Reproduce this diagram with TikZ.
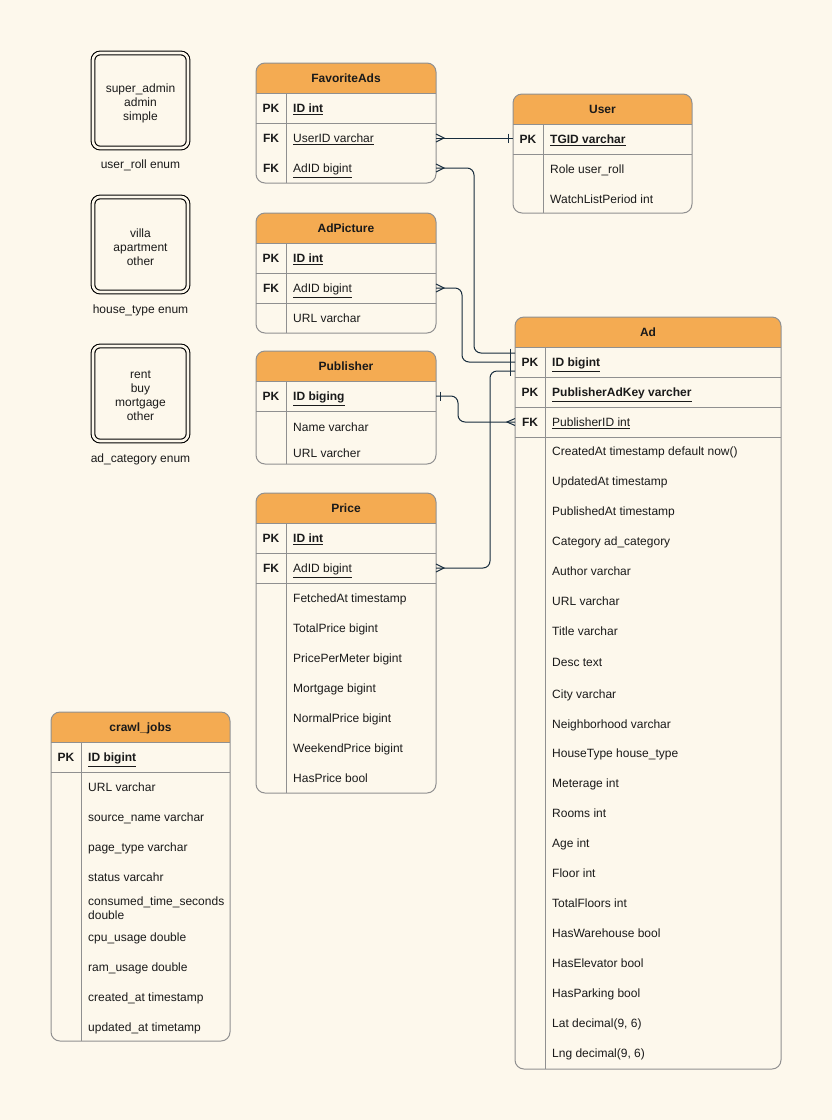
\documentclass[tikz,border=0pt]{standalone}
\usepackage{fontspec}
\setmainfont{Liberation Sans}
\usetikzlibrary{calc}

\definecolor{paper}{RGB}{253,248,236}
\definecolor{hdrfill}{RGB}{244,171,82}
\definecolor{rule}{RGB}{144,144,144}
\definecolor{link}{RGB}{24,45,62}
\definecolor{ink}{RGB}{26,26,26}

\newcommand\pkname[1]{\textbf{\underline{#1}}}
\newcommand\fkname[1]{\underline{#1}}

% table: name, x1, y1, x2, y2, title
\newcommand\ertable[6]{%
  \begin{scope}
    \clip[rounded corners=9] (#2,#3) rectangle (#4,#5);
    \fill[paper] (#2,#3) rectangle (#4,#5);
    \fill[hdrfill] (#2,#3) rectangle (#4,#3+30);
  \end{scope}
  \draw[rule] (#2,#3+30) -- (#4,#3+30);
  \draw[rule] (#2+30,#3+30) -- (#2+30,#5);
  \node[frame, minimum width=#4-#2, minimum height=#5-#3] (#1) at (#2,#3) {};
  \node[heading] (#1-title) at ({(#2+#4)/2},#3+15) {#6};
}
% field row: name, x1, y centre, key, style, text
\newcommand\erfield[6]{%
  \node[keytext] (#1-key) at (#2+15,#3) {#4};
  \node[#5] (#1) at (#2+37,#3) {#6};
}
% separator between row groups: x1, x2, y
\newcommand\errule[3]{\draw[rule] (#1,#3) -- (#2,#3);}
% relationship end marks
\newcommand\crowfoot[3]{\draw[link] ($#1+(0,-#3)$) -- ($#1+(#2*8,0)$) -- ($#1+(0,#3)$);}
\newcommand\onebar[2]{\draw[link] ($#1+(#2*4.5,-4.5)$) -- ($#1+(#2*4.5,4.5)$);}

\begin{document}
\begin{tikzpicture}[x=1pt,y=-1pt,
  every node/.style={font=\fontsize{12}{14}\selectfont, text=ink},
  frame/.style={draw=rule, line width=1pt, rounded corners=9, anchor=north west,
    inner sep=0pt, outer sep=0pt},
  heading/.style={font=\fontsize{12}{14}\selectfont\bfseries, inner sep=0pt,
    text height=9.8pt, text depth=0pt},
  keytext/.style={font=\fontsize{12}{14}\selectfont\bfseries, inner sep=0pt,
    text height=9.8pt, text depth=0pt},
  fld/.style={anchor=west, inner sep=0pt, text height=9.8pt, text depth=0pt},
  fldtwo/.style={anchor=west, inner sep=0pt, align=left},
  rule/.style={draw=rule, line width=1pt},
  link/.style={draw=link, line width=1pt},
  enumbox/.style={draw=black, line width=1.1pt, double=paper, double distance=2.6pt,
    rounded corners=7, minimum width=95, minimum height=95, inner sep=0pt, fill=paper},
  enumtext/.style={align=center, inner sep=0pt},
  enumlabel/.style={inner sep=0pt, text height=10.4pt, text depth=0pt}
]
\fill[paper] (0,0) rectangle (832,1120);
\useasboundingbox (0,0) rectangle (832,1120);

% ---------- enumerations ----------
\node[enumbox] (rollbox) at (140.5,100.5) {};
\node[enumtext] (rolltext) at (rollbox.center) [yshift=-2.5pt] {super\_admin\\admin\\simple};
\node[enumlabel] (rolllabel) at (140.5,163) {user\_roll enum};
\node[enumbox] (housebox) at (140.5,244.5) {};
\node[enumtext] (housetext) at (housebox.center) [yshift=-2.5pt] {villa\\apartment\\other};
\node[enumlabel] (houselabel) at (140.5,308) {house\_type enum};
\node[enumbox] (catbox) at (140.5,393.5) {};
\node[enumtext] (cattext) at (catbox.center) [yshift=-2.5pt] {rent\\buy\\mortgage\\other};
\node[enumlabel] (catlabel) at (140.5,457) {ad\_category enum};

% ---------- FavoriteAds ----------
\ertable{fav}{256}{63}{436}{183}{FavoriteAds}
\erfield{favId}{256}{108}{PK}{fld}{\pkname{ID int}}
\errule{256}{436}{123}
\erfield{favUserId}{256}{138}{FK}{fld}{\fkname{UserID varchar}}
\erfield{favAdId}{256}{168}{FK}{fld}{\fkname{AdID bigint}}

% ---------- User ----------
\ertable{user}{513}{94}{692}{213}{User}
\erfield{userId}{513}{139}{PK}{fld}{\pkname{TGID varchar}}
\errule{513}{692}{154}
\erfield{userRole}{513}{169}{}{fld}{Role user\_roll}
\erfield{userWatch}{513}{199}{}{fld}{WatchListPeriod int}

% ---------- AdPicture ----------
\ertable{adpic}{256}{213}{436}{333}{AdPicture}
\erfield{adpicId}{256}{258}{PK}{fld}{\pkname{ID int}}
\errule{256}{436}{273}
\erfield{adpicAdId}{256}{288}{FK}{fld}{\fkname{AdID bigint}}
\errule{256}{436}{303}
\erfield{adpicUrl}{256}{318}{}{fld}{URL varchar}

% ---------- Publisher ----------
\ertable{pub}{256}{351}{436}{464}{Publisher}
\erfield{pubId}{256}{396}{PK}{fld}{\pkname{ID biging}}
\errule{256}{436}{411}
\erfield{pubName}{256}{427}{}{fld}{Name varchar}
\erfield{pubUrl}{256}{453}{}{fld}{URL varcher}

% ---------- Price ----------
\ertable{price}{256}{493}{436}{793}{Price}
\erfield{priceId}{256}{538}{PK}{fld}{\pkname{ID int}}
\errule{256}{436}{553}
\erfield{priceAdId}{256}{568}{FK}{fld}{\fkname{AdID bigint}}
\errule{256}{436}{583}
\erfield{priceF1}{256}{598}{}{fld}{FetchedAt timestamp}
\erfield{priceF2}{256}{628}{}{fld}{TotalPrice bigint}
\erfield{priceF3}{256}{658}{}{fld}{PricePerMeter bigint}
\erfield{priceF4}{256}{688}{}{fld}{Mortgage bigint}
\erfield{priceF5}{256}{718}{}{fld}{NormalPrice bigint}
\erfield{priceF6}{256}{748}{}{fld}{WeekendPrice bigint}
\erfield{priceF7}{256}{778}{}{fld}{HasPrice bool}

% ---------- Ad ----------
\ertable{ad}{515}{317}{781}{1069}{Ad}
\erfield{adId}{515}{362}{PK}{fld}{\pkname{ID bigint}}
\errule{515}{781}{377}
\erfield{adKey}{515}{392}{PK}{fld}{\pkname{PublisherAdKey varcher}}
\errule{515}{781}{407}
\erfield{adPubId}{515}{422}{FK}{fld}{\fkname{PublisherID int}}
\errule{515}{781}{437}
\erfield{adF1}{515}{451}{}{fld}{CreatedAt timestamp default now()}
\erfield{adF2}{515}{481}{}{fld}{UpdatedAt timestamp}
\erfield{adF3}{515}{511}{}{fld}{PublishedAt timestamp}
\erfield{adF4}{515}{541}{}{fld}{Category ad\_category}
\erfield{adF5}{515}{571}{}{fld}{Author varchar}
\erfield{adF6}{515}{601}{}{fld}{URL varchar}
\erfield{adF7}{515}{631}{}{fld}{Title varchar}
\erfield{adF8}{515}{662}{}{fld}{Desc text}
\erfield{adF9}{515}{694}{}{fld}{City varchar}
\erfield{adF10}{515}{724}{}{fld}{Neighborhood varchar}
\erfield{adF11}{515}{753}{}{fld}{HouseType house\_type}
\erfield{adF12}{515}{783}{}{fld}{Meterage int}
\erfield{adF13}{515}{813}{}{fld}{Rooms int}
\erfield{adF14}{515}{843}{}{fld}{Age int}
\erfield{adF15}{515}{873}{}{fld}{Floor int}
\erfield{adF16}{515}{903}{}{fld}{TotalFloors int}
\erfield{adF17}{515}{933}{}{fld}{HasWarehouse bool}
\erfield{adF18}{515}{963}{}{fld}{HasElevator bool}
\erfield{adF19}{515}{993}{}{fld}{HasParking bool}
\erfield{adF20}{515}{1023}{}{fld}{Lat decimal(9, 6)}
\erfield{adF21}{515}{1053}{}{fld}{Lng decimal(9, 6)}

% ---------- crawl_jobs ----------
\ertable{crawl}{51}{712}{230}{1041}{crawl\_jobs}
\erfield{crawlId}{51}{757}{PK}{fld}{\pkname{ID bigint}}
\errule{51}{230}{772}
\erfield{crawlF1}{51}{787}{}{fld}{URL varchar}
\erfield{crawlF2}{51}{817}{}{fld}{source\_name varchar}
\erfield{crawlF3}{51}{847}{}{fld}{page\_type varchar}
\erfield{crawlF4}{51}{877}{}{fld}{status varcahr}
\erfield{crawlF5}{51}{908}{}{fldtwo}{consumed\_time\_seconds\\double}
\erfield{crawlF6}{51}{937}{}{fld}{cpu\_usage double}
\erfield{crawlF7}{51}{967}{}{fld}{ram\_usage double}
\erfield{crawlF8}{51}{997}{}{fld}{created\_at timestamp}
\erfield{crawlF9}{51}{1027}{}{fld}{updated\_at timetamp}

% ---------- relationships ----------
% FavoriteAds.UserID -> User.TGID
\draw[link] (fav.east |- favUserId) -- (user.west |- favUserId);
\crowfoot{(fav.east |- favUserId)}{1}{4}
\onebar{(user.west |- favUserId)}{-1}

% FavoriteAds.AdID -> Ad.ID
\draw[link, rounded corners=7] (fav.east |- favAdId) -- ++(38,0) |- ($(ad.west |- adId)+(0,-9)$);
\crowfoot{(fav.east |- favAdId)}{1}{4}
\onebar{($(ad.west |- adId)+(0,-9)$)}{-1}

% AdPicture.AdID -> Ad.ID
\draw[link, rounded corners=7] (adpic.east |- adpicAdId) -- ++(26,0) |- (ad.west |- adId);
\crowfoot{(adpic.east |- adpicAdId)}{1}{4}
\onebar{(ad.west |- adId)}{-1}

% Price.AdID -> Ad.ID
\draw[link, rounded corners=7] (price.east |- priceAdId) -- ++(54,0) |- ($(ad.west |- adId)+(0,9)$);
\crowfoot{(price.east |- priceAdId)}{1}{4}
\onebar{($(ad.west |- adId)+(0,9)$)}{-1}

% Publisher.ID -> Ad.PublisherID
\draw[link, rounded corners=7] (pub.east |- pubId) -- ++(22,0) |- (ad.west |- adPubId);
\onebar{(pub.east |- pubId)}{1}
\crowfoot{(ad.west |- adPubId)}{-1}{3.5}

\end{tikzpicture}
\end{document}
